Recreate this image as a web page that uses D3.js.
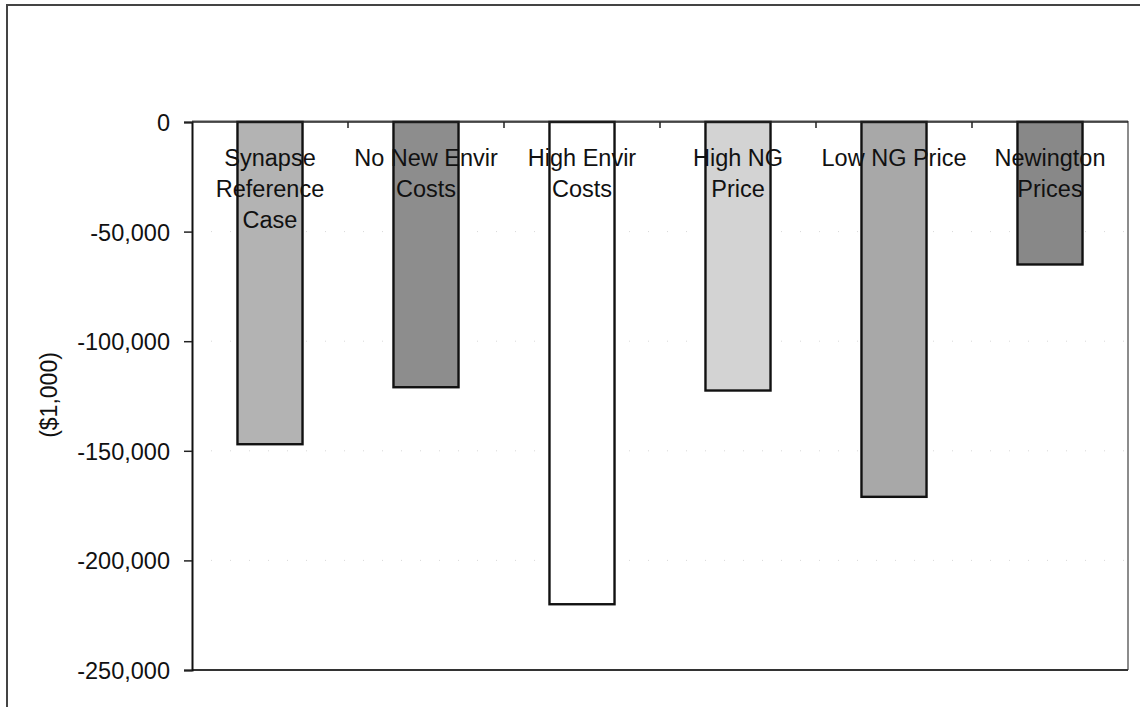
<!DOCTYPE html>
<html>
<head>
<meta charset="utf-8">
<script src="https://cdn.jsdelivr.net/npm/d3@7"></script>
<style>
  html, body { margin: 0; padding: 0; background: #fff; }
  svg { display: block; }
  text { font-family: "Liberation Sans", Arial, sans-serif; fill: #111; }
</style>
</head>
<body>
<script>
// ---- data ----
const categories = [
  ["Synapse", "Reference", "Case"],
  ["No New Envir", "Costs"],
  ["High Envir", "Costs"],
  ["High NG", "Price"],
  ["Low NG Price"],
  ["Newington", "Prices"]
];
const categoryNames = ["Synapse Reference Case", "No New Envir Costs", "High Envir Costs", "High NG Price", "Low NG Price", "Newington Prices"];
const values = [-147000, -121000, -220000, -122500, -171000, -65000];
const barColors = ["#b3b3b3", "#8d8d8d", "#ffffff", "#d3d3d3", "#a8a8a8", "#888888"];
const yTicks = [0, -50000, -100000, -150000, -200000, -250000];
const yLabel = "($1,000)";

// ---- layout ----
const W = 1140, H = 707;
const pLeft = 192, pRight = 1128, pTop = 122, pBottom = 670;

const svg = d3.select("body").append("svg").attr("width", W).attr("height", H);

// outer frame (extends beyond the canvas on right/bottom)
svg.append("rect").attr("x", 7).attr("y", 5).attr("width", W + 20).attr("height", H + 20)
  .attr("fill", "none").attr("stroke", "#444").attr("stroke-width", 2);

const x = d3.scaleBand().domain(categoryNames).range([pLeft, pRight])
  .paddingInner(0.583).paddingOuter(0.2915);
const xStep = d3.scaleBand().domain(categoryNames).range([pLeft, pRight]).padding(0);
const y = d3.scaleLinear().domain([0, -250000]).range([pTop, pBottom]);

// faint gridlines (scan remnants)
svg.append("g").selectAll("line").data(yTicks.slice(1, -1)).join("line")
  .attr("x1", pLeft).attr("x2", pRight)
  .attr("y1", d => y(d)).attr("y2", d => y(d))
  .attr("stroke", "#d8d8d8").attr("stroke-width", 1).attr("stroke-dasharray", "1,18");

// plot-area border top/right/bottom
svg.append("line").attr("x1", pLeft).attr("x2", pRight).attr("y1", pTop - 1).attr("y2", pTop - 1)
  .attr("stroke", "#888").attr("stroke-width", 1.5);
svg.append("line").attr("x1", pRight).attr("x2", pRight).attr("y1", pTop - 1).attr("y2", pBottom)
  .attr("stroke", "#666").attr("stroke-width", 1.5);
svg.append("line").attr("x1", pLeft).attr("x2", pRight).attr("y1", pBottom).attr("y2", pBottom)
  .attr("stroke", "#333").attr("stroke-width", 1.8);

// bars
svg.append("g").selectAll("rect").data(values).join("rect")
  .attr("x", (d, i) => x(categoryNames[i]))
  .attr("y", y(0))
  .attr("width", x.bandwidth())
  .attr("height", d => y(d) - y(0))
  .attr("fill", (d, i) => barColors[i])
  .attr("stroke", "#111").attr("stroke-width", 2.4);

// y axis
const yAxis = d3.axisLeft(y).tickValues(yTicks).tickSize(8).tickPadding(14)
  .tickFormat(d => d === 0 ? "0" : d3.format(",")(d).replace("−", "-"));
const gy = svg.append("g").attr("transform", `translate(${pLeft},0)`).call(yAxis);
gy.select(".domain").attr("stroke", "#111").attr("stroke-width", 2);
gy.selectAll(".tick line").attr("stroke", "#222").attr("stroke-width", 1.5);
gy.selectAll(".tick text").attr("font-size", 23.5).attr("font-family", "Liberation Sans, Arial, sans-serif")
  .attr("fill", "#111").attr("dy", "0.36em");

// x axis at zero with ticks at category boundaries
const bounds = categoryNames.slice(1).map(c => xStep(c));
svg.append("line").attr("x1", pLeft).attr("x2", pRight).attr("y1", y(0)).attr("y2", y(0))
  .attr("stroke", "#222").attr("stroke-width", 1.5);
svg.append("g").selectAll("line").data(bounds).join("line")
  .attr("x1", d => d).attr("x2", d => d)
  .attr("y1", y(0)).attr("y2", y(0) + 6)
  .attr("stroke", "#222").attr("stroke-width", 1.5);

// category labels
const lab = svg.append("g");
categories.forEach((lines, i) => {
  const cx = x(categoryNames[i]) + x.bandwidth() / 2;
  const t = lab.append("text").attr("text-anchor", "middle").attr("font-size", 23.5);
  lines.forEach((ln, j) => {
    t.append("tspan").attr("x", cx).attr("y", 166 + j * 31).text(ln);
  });
});

// y label
svg.append("text").attr("transform", `translate(57,395) rotate(-90)`)
  .attr("text-anchor", "middle").attr("font-size", 23).text(yLabel);
</script>
</body>
</html>
